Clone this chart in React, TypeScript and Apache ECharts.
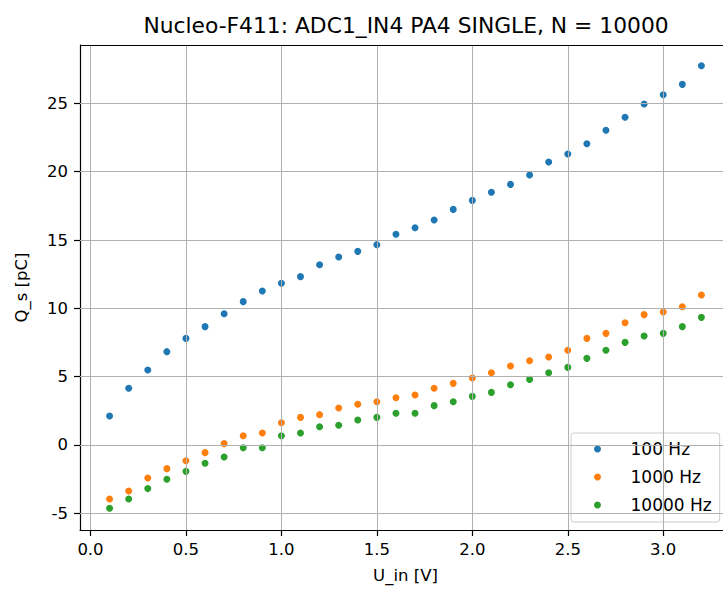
import React, { useEffect, useRef } from "react";
import * as echarts from "echarts";

const TITLE = "Nucleo-F411: ADC1_IN4 PA4 SINGLE, N = 10000";
const X_NAME = "U_in [V]";
const Y_NAME = "Q_s [pC]";

const U_IN = [
  0.1, 0.2, 0.3, 0.4, 0.5, 0.6, 0.7, 0.8, 0.9, 1.0, 1.1, 1.2, 1.3, 1.4, 1.5, 1.6,
  1.7, 1.8, 1.9, 2.0, 2.1, 2.2, 2.3, 2.4, 2.5, 2.6, 2.7, 2.8, 2.9, 3.0, 3.1, 3.2,
];

const Q_100HZ = [
  2.12, 4.15, 5.49, 6.83, 7.8, 8.66, 9.61, 10.49, 11.27, 11.84, 12.32, 13.19, 13.76,
  14.17, 14.66, 15.42, 15.9, 16.46, 17.24, 17.9, 18.49, 19.07, 19.76, 20.71, 21.29,
  22.05, 23.03, 23.98, 24.95, 25.63, 26.39, 27.75,
];

const Q_1000HZ = [
  -3.95, -3.37, -2.41, -1.73, -1.15, -0.56, 0.1, 0.68, 0.88, 1.63, 2.02, 2.22, 2.71,
  2.98, 3.17, 3.46, 3.66, 4.15, 4.51, 4.9, 5.29, 5.78, 6.17, 6.44, 6.93, 7.8, 8.17,
  8.95, 9.54, 9.73, 10.12, 10.98,
];

const Q_10000HZ = [
  -4.63, -3.95, -3.19, -2.51, -1.93, -1.34, -0.88, -0.2, -0.2, 0.68, 0.88, 1.34, 1.44,
  1.83, 2.02, 2.32, 2.32, 2.88, 3.17, 3.56, 3.85, 4.41, 4.8, 5.29, 5.68, 6.34, 6.93,
  7.51, 7.98, 8.17, 8.66, 9.34,
];

const SERIES_NAMES = ["100 Hz", "1000 Hz", "10000 Hz"];
const SERIES_VALUES = [Q_100HZ, Q_1000HZ, Q_10000HZ];
const COLORS = ["#1f77b4", "#ff7f0e", "#2ca02c"];

const X_TICKS = [0.0, 0.5, 1.0, 1.5, 2.0, 2.5, 3.0];
const Y_TICKS = [-5, 0, 5, 10, 15, 20, 25];

const FONT = "DejaVu Sans";

export default function App() {
  const ref = useRef<HTMLDivElement>(null);

  useEffect(() => {
    if (!ref.current) return;
    const chart = echarts.init(ref.current, null, { renderer: "svg" });

    const series = SERIES_NAMES.map((name, i) => ({
      name,
      type: "scatter",
      data: U_IN.map((x, j) => [x, SERIES_VALUES[i][j]]),
      symbol: "circle",
      symbolSize: 7,
      itemStyle: { color: COLORS[i], opacity: 1 },
      z: 3,
    }));

    chart.setOption({
      animation: false,
      backgroundColor: "#ffffff",
      textStyle: { fontFamily: FONT },
      title: {
        text: TITLE,
        left: 401,
        top: 9,
        textAlign: "center",
        textStyle: {
          fontFamily: FONT,
          fontSize: 21.8,
          fontWeight: "normal",
          color: "#000",
        },
      },
      grid: {
        left: 80,
        top: 45,
        width: 651,
        height: 485,
        containLabel: false,
        show: false,
      },
      legend: {
        show: true,
        orient: "vertical",
        left: 571,
        top: 433,
        padding: [7, 8, 8, 23],
        itemWidth: 40,
        itemHeight: 7,
        itemGap: 10,
        icon: "circle",
        backgroundColor: "rgba(255,255,255,0.8)",
        borderColor: "#cccccc",
        borderWidth: 1,
        borderRadius: 3,
        textStyle: {
          fontFamily: FONT,
          fontSize: 17,
          color: "#000",
          lineHeight: 18,
          padding: [0, 0, 0, 8],
        },
        data: SERIES_NAMES,
      },
      xAxis: {
        type: "value",
        min: -0.055,
        max: 3.355,
        name: X_NAME,
        nameLocation: "middle",
        nameGap: 37,
        nameTextStyle: { fontFamily: FONT, fontSize: 16.5, color: "#000" },
        axisLine: { show: true, onZero: false, lineStyle: { color: "#000", width: 1.2 } },
        axisTick: {
          show: true,
          inside: false,
          length: 6,
          lineStyle: { color: "#000", width: 1.2 },
          customValues: X_TICKS,
        },
        axisLabel: {
          show: true,
          margin: 11,
          fontFamily: FONT,
          fontSize: 16.5,
          color: "#000",
          customValues: X_TICKS,
          formatter: (v: number) => v.toFixed(1),
        },
        splitLine: { show: false },
      },
      yAxis: {
        type: "value",
        min: -6.22,
        max: 29.27,
        name: Y_NAME,
        nameLocation: "middle",
        nameGap: 50,
        nameRotate: 90,
        nameTextStyle: { fontFamily: FONT, fontSize: 16.5, color: "#000" },
        axisLine: { show: true, onZero: false, lineStyle: { color: "#000", width: 1.2 } },
        axisTick: {
          show: true,
          inside: false,
          length: 6,
          lineStyle: { color: "#000", width: 1.2 },
          customValues: Y_TICKS,
        },
        axisLabel: {
          show: true,
          margin: 12,
          fontFamily: FONT,
          fontSize: 16.5,
          color: "#000",
          customValues: Y_TICKS,
          formatter: (v: number) => String(v),
        },
        splitLine: { show: false },
      },
      series: [
        ...series,
        {
          name: "grid-lines",
          type: "scatter",
          data: [],
          silent: true,
          z: 1,
          markLine: {
            silent: true,
            symbol: ["none", "none"],
            label: { show: false },
            lineStyle: { color: "#b0b0b0", width: 1, type: "solid" },
            data: [
              ...X_TICKS.map((v) => ({ xAxis: v })),
              ...Y_TICKS.map((v) => ({ yAxis: v })),
            ],
          },
        },
        {
          name: "frame",
          type: "scatter",
          data: [],
          silent: true,
          z: 2,
          markLine: {
            silent: true,
            symbol: ["none", "none"],
            label: { show: false },
            lineStyle: { color: "#000", width: 1.2, type: "solid" },
            data: [{ yAxis: 29.27 }],
          },
        },
      ],
    });

    return () => chart.dispose();
  }, []);

  return (
    <div
      ref={ref}
      style={{ position: "fixed", left: 0, top: 0, width: 740, height: 589 }}
    />
  );
}
